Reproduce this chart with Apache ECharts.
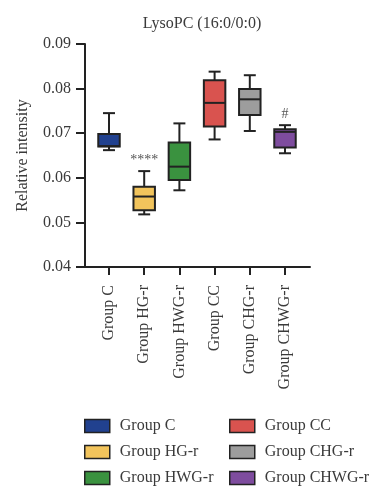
<!DOCTYPE html>
<html>
<head>
<meta charset="utf-8">
<script src="https://cdn.jsdelivr.net/npm/echarts@6/dist/echarts.min.js"></script>
<style>html,body{margin:0;padding:0;background:#fff}#c{width:392px;height:500px}</style>
</head>
<body>
<div id="c"></div>
<script>
const categories = ['Group C', 'Group HG-r', 'Group HWG-r', 'Group CC', 'Group CHG-r', 'Group CHWG-r'];
const colors = ['#21418f', '#f2c45c', '#3a923f', '#d9534f', '#9d9d9d', '#7e4c9e'];
// [min, Q1, median, Q3, max]
const boxC    = [0.0662, 0.0670, 0.0671, 0.0698, 0.0745];
const boxHG   = [0.0518, 0.0527, 0.0558, 0.0580, 0.0615];
const boxHWG  = [0.0572, 0.0595, 0.0625, 0.0679, 0.0722];
const boxCC   = [0.0686, 0.0715, 0.0768, 0.0819, 0.0838];
const boxCHG  = [0.0705, 0.0741, 0.0776, 0.0799, 0.0830];
const boxCHWG = [0.0655, 0.0668, 0.0703, 0.0709, 0.0718];
const boxes = [boxC, boxHG, boxHWG, boxCC, boxCHG, boxCHWG];
const marks = ['', '****', '', '', '', '#'];
const yTicks = [0.04, 0.05, 0.06, 0.07, 0.08, 0.09];

const FONT = '"Liberation Serif", "DejaVu Serif", serif';
const INK = '#222';
const TXT = '#3a3a3a';

function renderBox(params, api) {
  const x = api.value(0);
  const pMin = api.coord([x, api.value(1)]);
  const pQ1 = api.coord([x, api.value(2)]);
  const pMed = api.coord([x, api.value(3)]);
  const pQ3 = api.coord([x, api.value(4)]);
  const pMax = api.coord([x, api.value(5)]);
  const band = api.size([1, 0])[0];
  const bw = band * 0.61, cw = band * 0.34;
  const cx = pMed[0];
  const ls = {stroke: INK, lineWidth: 2};
  const mark = marks[x];
  const children = [
    {type: 'line', shape: {x1: cx, y1: pMax[1], x2: cx, y2: pQ3[1]}, style: ls},
    {type: 'line', shape: {x1: cx, y1: pQ1[1], x2: cx, y2: pMin[1]}, style: ls},
    {type: 'line', shape: {x1: cx - cw / 2, y1: pMax[1], x2: cx + cw / 2, y2: pMax[1]}, style: ls},
    {type: 'line', shape: {x1: cx - cw / 2, y1: pMin[1], x2: cx + cw / 2, y2: pMin[1]}, style: ls},
    {type: 'rect', shape: {x: cx - bw / 2, y: pQ3[1], width: bw, height: pQ1[1] - pQ3[1]},
      style: {fill: api.visual('color'), stroke: INK, lineWidth: 2}},
    {type: 'line', shape: {x1: cx - bw / 2, y1: pMed[1], x2: cx + bw / 2, y2: pMed[1]}, style: ls}
  ];
  if (mark) {
    children.push({type: 'text', x: cx, y: pMax[1] - 4,
      style: {text: mark, x: 0, y: 0, fill: '#555', font: '14px ' + FONT, align: 'center', verticalAlign: 'bottom'}});
  }
  return {type: 'group', children};
}

const series = categories.map((name, i) => ({
  name: name,
  type: 'custom',
  xAxisIndex: 1,
  yAxisIndex: 1,
  itemStyle: {color: colors[i]},
  renderItem: renderBox,
  encode: {x: 0, y: [1, 2, 3, 4, 5]},
  data: [[i].concat(boxes[i])],
  z: 3
}));

const legendCommon = {
  orient: 'vertical',
  top: 418,
  height: 78,
  padding: 0,
  itemWidth: 25,
  itemHeight: 13,
  itemGap: 10,
  icon: 'rect',
  itemStyle: {borderColor: INK, borderWidth: 1.5},
  textStyle: {fontFamily: FONT, fontSize: 16, color: TXT, padding: [0, 0, 0, 5]},
  selectedMode: false
};

const chart = echarts.init(document.getElementById('c'), null, {renderer: 'canvas'});
chart.setOption({
  backgroundColor: '#fff',
  animation: false,
  title: {
    text: 'LysoPC (16:0/0:0)',
    left: 197, top: 11, textAlign: 'center',
    textStyle: {fontFamily: FONT, fontSize: 16, fontWeight: 'normal', color: TXT}
  },
  legend: [
    Object.assign({}, legendCommon, {left: 84, data: categories.slice(0, 3)}),
    Object.assign({}, legendCommon, {left: 229, data: categories.slice(3)})
  ],
  grid: [
    {left: 85, right: 82, top: 44, bottom: 233},
    {left: 91.4, right: 89.4, top: 44, bottom: 233}
  ],
  xAxis: [
    {type: 'value', gridIndex: 0, min: 0, max: 1,
      axisLine: {show: true, lineStyle: {color: INK, width: 2}},
      axisTick: {show: false}, axisLabel: {show: false}, splitLine: {show: false}},
    {type: 'category', gridIndex: 1, data: categories,
      axisLine: {show: false},
      axisTick: {show: true, alignWithLabel: true, length: 8, lineStyle: {color: INK, width: 2}},
      axisLabel: {rotate: 90, margin: 18, fontFamily: FONT, fontSize: 16, color: TXT, interval: 0},
      splitLine: {show: false}}
  ],
  yAxis: [
    {type: 'value', gridIndex: 0, min: 0.04, max: 0.09, interval: 0.01,
      name: 'Relative intensity', nameLocation: 'middle', nameGap: 54,
      nameTextStyle: {fontFamily: FONT, fontSize: 16, color: TXT},
      axisLine: {show: true, lineStyle: {color: INK, width: 2}},
      axisTick: {show: true, length: 9, lineStyle: {color: INK, width: 2}},
      axisLabel: {margin: 14, fontFamily: FONT, fontSize: 16, color: TXT,
        formatter: v => v.toFixed(2)},
      splitLine: {show: false}},
    {type: 'value', gridIndex: 1, min: 0.04, max: 0.09, show: false, splitLine: {show: false}}
  ],
  series: series
});
</script>
</body>
</html>
